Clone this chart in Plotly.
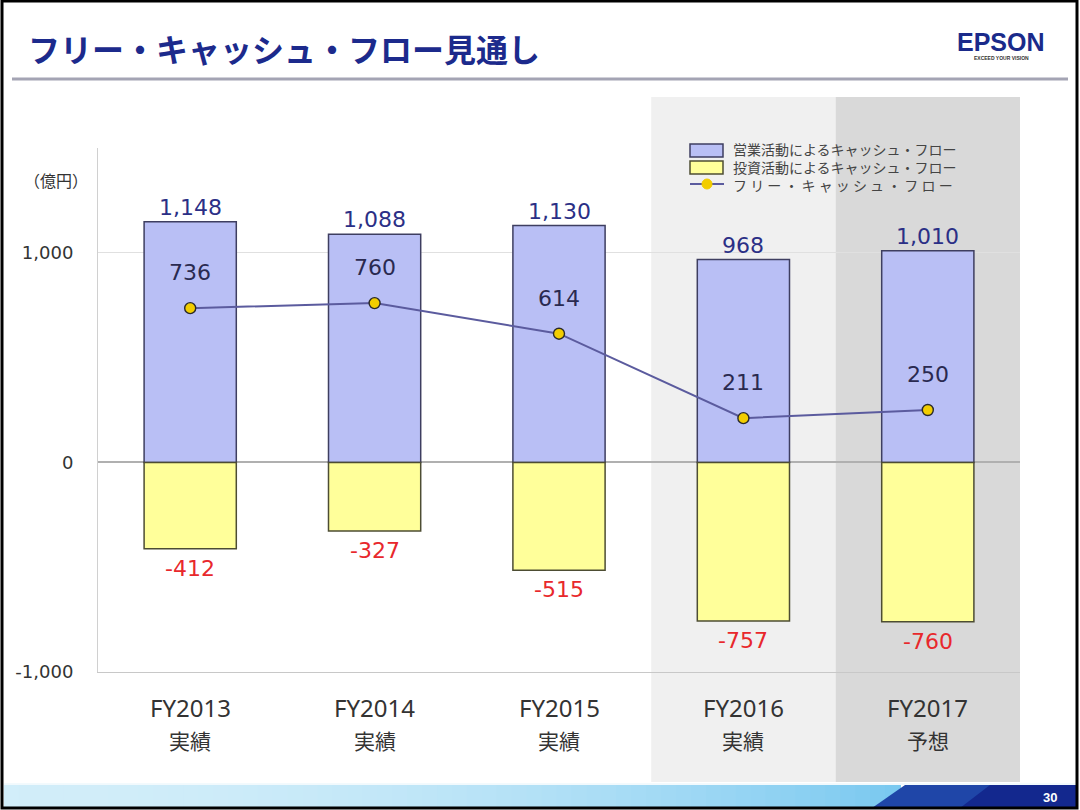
import plotly.graph_objects as go

categories = ["FY2013", "FY2014", "FY2015", "FY2016", "FY2017"]
category_sub = ["実績", "実績", "実績", "実績", "予想"]
operating_cf = [1148, 1088, 1130, 968, 1010]
investing_cf = [-412, -327, -515, -757, -760]
free_cf = [736, 760, 614, 211, 250]
y_ticks = [-1000, 0, 1000]
y_tick_text = ["-1,000", "0", "1,000"]

W, H = 1080, 810
FONT = "Noto Sans CJK JP"
NUM = "DejaVu Sans"


def py(px):
    return 1 - px / H


def pxx(px):
    return px / W


fig = go.Figure()

fig.add_trace(go.Bar(
    x=categories, y=operating_cf, width=0.5,
    marker=dict(color="#b9bff5", line=dict(color="#3e3e60", width=1.5)),
    showlegend=False, hoverinfo="skip"))
fig.add_trace(go.Bar(
    x=categories, y=investing_cf, width=0.5,
    marker=dict(color="#ffff9a", line=dict(color="#4d4d33", width=1.5)),
    showlegend=False, hoverinfo="skip"))
fig.add_trace(go.Scatter(
    x=categories, y=free_cf, mode="lines+markers",
    line=dict(color="#5b5b9e", width=2),
    marker=dict(size=11, color="#f2cd00", line=dict(color="#2a2a2a", width=1.4)),
    showlegend=False, hoverinfo="skip"))

ann = []
for c, v in zip(categories, operating_cf):
    ann.append(dict(x=c, y=v, xref="x", yref="y", text=f"{v:,}", showarrow=False,
                    yanchor="bottom", yshift=0,
                    font=dict(family=NUM, size=22, color="#2b2f86")))
for c, v in zip(categories, investing_cf):
    ann.append(dict(x=c, y=v, xref="x", yref="y", text=f"{v:,}", showarrow=False,
                    yanchor="top", yshift=-5,
                    font=dict(family=NUM, size=22, color="#e8282c")))
for c, v in zip(categories, free_cf):
    ann.append(dict(x=c, y=v, xref="x", yref="y", text=f"{v:,}", showarrow=False,
                    yanchor="bottom", yshift=21,
                    font=dict(family=NUM, size=22, color="#2a2a50")))
for c, s in zip(categories, category_sub):
    ann.append(dict(x=c, y=py(707), xref="x", yref="paper", text=c, showarrow=False,
                    yanchor="middle", font=dict(family="Noto Sans", size=24, color="#333333")))
    ann.append(dict(x=c, y=py(740), xref="x", yref="paper", text=s, showarrow=False,
                    yanchor="middle", font=dict(family=FONT, size=21, color="#333333")))

# unit label
ann.append(dict(x=pxx(22), y=py(180), xref="paper", yref="paper", text="（億円）",
                showarrow=False, xanchor="left", yanchor="middle",
                font=dict(family=FONT, size=16, color="#333333")))

# title
ann.append(dict(x=pxx(26), y=py(48), xref="paper", yref="paper",
                text="<b>フリー・キャッシュ・フロー見通し</b>", showarrow=False,
                xanchor="left", yanchor="middle",
                font=dict(family=FONT, size=32, color="#1c2a8c")))
# logo
ann.append(dict(x=pxx(1001), y=py(42), xref="paper", yref="paper",
                text="<b>EPSON</b>", showarrow=False, xanchor="center", yanchor="middle",
                font=dict(family="Liberation Sans", size=25, color="#1a2a8a")))
ann.append(dict(x=pxx(1001), y=py(58), xref="paper", yref="paper",
                text="<b>EXCEED YOUR VISION</b>", showarrow=False, xanchor="center",
                yanchor="middle",
                font=dict(family="Liberation Sans", size=5, color="#333333")))
# page number
ann.append(dict(x=pxx(1050), y=py(797), xref="paper", yref="paper",
                text="<b>30</b>", showarrow=False, xanchor="center", yanchor="middle",
                font=dict(family="Liberation Sans", size=13, color="#ffffff")))

# legend text (one block, three lines)
legend_texts = ["営業活動によるキャッシュ・フロー", "投資活動によるキャッシュ・フロー",
                "フ リ ー ・ キ ャ ッ シ ュ ・ フ ロ ー"]
ann.append(dict(x=pxx(731), y=py(167), xref="paper", yref="paper",
                text="<br>".join(legend_texts), align="left",
                showarrow=False, xanchor="left", yanchor="middle",
                font=dict(family=FONT, size=14, color="#444444")))

shapes = []
# shaded columns
shapes.append(dict(type="rect", xref="x", yref="paper", x0=2.5, x1=3.5,
                   y0=py(782), y1=py(97), fillcolor="#f0f0f0", line=dict(width=0),
                   layer="below"))
shapes.append(dict(type="rect", xref="x", yref="paper", x0=3.5, x1=4.5,
                   y0=py(782), y1=py(97), fillcolor="#d9d9d9", line=dict(width=0),
                   layer="below"))
# title rule
shapes.append(dict(type="line", xref="paper", yref="paper", x0=pxx(12), x1=pxx(1068),
                   y0=py(79), y1=py(79), line=dict(color="#a4a4b4", width=3)))


# footer gradient
def lerp(c1, c2, t):
    return "#%02x%02x%02x" % tuple(int(a + (b - a) * t) for a, b in zip(c1, c2))


n = 60
x_start, x_end = 4, 900
c1, c2 = (210, 238, 250), (120, 200, 240)
for i in range(n):
    xa = x_start + (x_end - x_start) * i / n
    xb = x_start + (x_end - x_start) * (i + 1) / n + 1
    t = (i / n) ** 2
    shapes.append(dict(type="rect", xref="paper", yref="paper", x0=pxx(xa), x1=pxx(xb),
                       y0=py(808), y1=py(785), fillcolor=lerp(c1, c2, t),
                       line=dict(width=0)))
# dark slanted part
shapes.append(dict(type="path", xref="paper", yref="paper",
                   path=f"M {pxx(872)},{py(808)} L {pxx(905)},{py(785)} L {pxx(1076)},{py(785)} "
                        f"L {pxx(1076)},{py(808)} Z",
                   fillcolor="#1f46a8", line=dict(width=0)))
shapes.append(dict(type="path", xref="paper", yref="paper",
                   path=f"M {pxx(960)},{py(808)} L {pxx(990)},{py(785)} L {pxx(1076)},{py(785)} "
                        f"L {pxx(1076)},{py(808)} Z",
                   fillcolor="#13288e", line=dict(width=0)))
shapes.append(dict(type="line", xref="paper", yref="paper", x0=pxx(4), x1=pxx(1076),
                   y0=py(784), y1=py(784), line=dict(color="#e4f4fb", width=1)))

# legend symbols
shapes.append(dict(type="rect", xref="paper", yref="paper", x0=pxx(690), x1=pxx(723),
                   y0=py(157), y1=py(144), fillcolor="#b9bff5",
                   line=dict(color="#3e3e60", width=1.5)))
shapes.append(dict(type="rect", xref="paper", yref="paper", x0=pxx(690), x1=pxx(723),
                   y0=py(174), y1=py(161), fillcolor="#ffff9a",
                   line=dict(color="#4d4d33", width=1.5)))
shapes.append(dict(type="line", xref="paper", yref="paper", x0=pxx(690), x1=pxx(724),
                   y0=py(184), y1=py(184), line=dict(color="#5b5b9e", width=2)))
shapes.append(dict(type="circle", xref="paper", yref="paper", x0=pxx(702), x1=pxx(712),
                   y0=py(189), y1=py(179), fillcolor="#f2cd00",
                   line=dict(color="#f2cd00", width=1)))

# outer frame
shapes.append(dict(type="rect", xref="paper", yref="paper", x0=pxx(2), x1=pxx(1077),
                   y0=py(808), y1=py(1), line=dict(color="#000000", width=3)))

fig.update_layout(
    width=W, height=H,
    margin=dict(l=0, r=0, t=0, b=0, pad=0, autoexpand=False),
    paper_bgcolor="#ffffff", plot_bgcolor="rgba(0,0,0,0)",
    barmode="relative", bargap=0.5, showlegend=False,
    annotations=ann, shapes=shapes,
    xaxis=dict(domain=[pxx(98), pxx(1020)], range=[-0.5, 4.5], showticklabels=False,
               showgrid=False, showline=True, linecolor="#c8c8c8", linewidth=1,
               zeroline=False, fixedrange=True, anchor="y", automargin=False),
    yaxis=dict(domain=[py(672), py(148)], range=[-1000, 1500], tickvals=y_ticks,
               ticktext=y_tick_text, showgrid=True, gridcolor="#e0e0e0", gridwidth=1,
               zeroline=True, zerolinecolor="#b0b0b0", zerolinewidth=1.5,
               showline=True, linecolor="#d0d0d0", linewidth=1, automargin=False,
               ticks="", ticklabelstandoff=20, fixedrange=True,
               tickfont=dict(family=NUM, size=18, color="#333333")),
    font=dict(family=FONT),
)

fig.write_html("out.html", config={"displayModeBar": False},
               post_script="document.body.style.margin='0';document.body.style.padding='0';")
